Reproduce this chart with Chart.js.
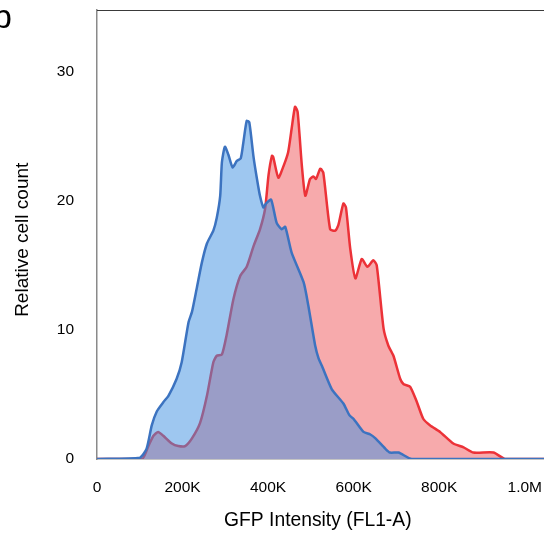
<!DOCTYPE html>
<html>
<head>
<meta charset="utf-8">
<script src="https://cdn.jsdelivr.net/npm/chart.js@4/dist/chart.umd.min.js"></script>
<style>
    body { margin: 0; background: #ffffff; }
    #wrap { position: relative; width: 544px; height: 540px; overflow: hidden; }
    #panelLabel { position: absolute; left: -7px; top: -1px; font: 34px "Liberation Sans", Arial, sans-serif; line-height: 34px; color: #000; }
</style>
</head>
<body>
<div id="wrap">
    <canvas id="gfpChart" width="544" height="540"></canvas>
    <span id="panelLabel">b</span>
</div>
<script>
// GFP intensity in thousands (K), relative cell count
const blueX = [0, 100, 116, 128, 140, 155, 167, 186, 198, 214, 222, 233, 245, 257, 272, 280, 288, 292, 299, 307, 317, 327, 336, 342, 350, 356, 366, 374, 381, 389, 395, 407, 420, 432, 440, 455, 483, 494, 510, 518, 526, 549, 576, 590, 600, 623, 639, 651, 674, 685, 705, 736, 1045];
const blueY = [0, 0.1, 0.8, 2.6, 3.7, 4.4, 4.9, 6.2, 7.5, 10.6, 11.4, 13.2, 15.2, 16.7, 17.7, 18.7, 20.4, 23.0, 24.2, 23.6, 22.6, 23.1, 23.3, 24.5, 26.2, 26.1, 23.4, 21.7, 20.4, 19.5, 19.8, 20.1, 18.3, 17.8, 18.0, 16.0, 13.7, 11.9, 8.8, 7.8, 7.2, 5.4, 4.3, 3.4, 3.1, 2.1, 1.9, 1.6, 0.8, 0.5, 0.5, 0, 0];

const redX = [0, 105, 120, 132, 143, 155, 175, 190, 206, 222, 241, 257, 272, 280, 292, 303, 319, 335, 350, 366, 381, 393, 401, 409, 412, 424, 436, 447, 455, 463, 469, 479, 487, 498, 506, 512, 522, 529, 545, 557, 564, 576, 582, 592, 604, 619, 632, 646, 654, 670, 681, 693, 709, 717, 732, 748, 763, 779, 802, 833, 857, 880, 927, 954, 1045];
const redY = [0, 0, 1.0, 1.8, 2.1, 1.8, 1.2, 1.0, 1.0, 1.6, 2.8, 4.9, 7.5, 8.0, 8.1, 9.6, 12.4, 14.2, 14.9, 16.5, 17.8, 19.4, 22.0, 23.5, 23.4, 21.8, 22.7, 23.8, 25.6, 27.3, 26.9, 22.7, 20.4, 21.7, 21.9, 21.7, 22.5, 22.2, 17.8, 17.7, 18.1, 19.8, 19.5, 16.3, 14.0, 15.5, 14.9, 15.4, 15.0, 10.1, 8.8, 8.0, 6.2, 5.8, 5.6, 4.4, 3.1, 2.6, 2.1, 1.2, 0.9, 0.5, 0.5, 0, 0];

const xTicks = [0, 200, 400, 600, 800, 1000];
const yTicks = [0, 10, 20, 30];

function toPoints(xs, ys) {
    return xs.map((x, i) => ({ x: x, y: ys[i] }));
}

function formatK(v) {
    if (v === 0) return '0';
    if (v >= 1000) return (v / 1000).toFixed(1) + 'M';
    return v + 'K';
}

// keep the plot area where the reference has it (no extra label padding)
function noPadding(scale) {
    scale.paddingTop = 0;
    scale.paddingBottom = 0;
    scale.paddingLeft = 0;
    scale.paddingRight = 0;
}

const topBorder = {
    id: 'topBorder',
    afterDraw: (chart) => {
        const { ctx, chartArea } = chart;
        ctx.save();
        ctx.strokeStyle = '#3a3a3a';
        ctx.lineWidth = 1.2;
        ctx.beginPath();
        ctx.moveTo(chartArea.left, chartArea.top + 0.5);
        ctx.lineTo(chartArea.right, chartArea.top + 0.5);
        ctx.stroke();
        ctx.restore();
    }
};

const ctx = document.getElementById('gfpChart').getContext('2d');
new Chart(ctx, {
    type: 'line',
    data: {
        datasets: [
            {
                label: 'control',
                data: toPoints(blueX, blueY),
                borderColor: 'rgb(60, 115, 192)',
                backgroundColor: 'rgba(62, 143, 225, 0.5)',
                borderWidth: 2.5,
                pointRadius: 0,
                tension: 0.2,
                fill: 'origin'
            },
            {
                label: 'GFP',
                data: toPoints(redX, redY),
                borderColor: 'rgb(236, 50, 56)',
                backgroundColor: 'rgb(247, 170, 172)',
                borderWidth: 2.5,
                pointRadius: 0,
                tension: 0.2,
                fill: 'origin'
            }
        ]
    },
    options: {
        responsive: false,
        animation: false,
        layout: { padding: { top: 10, right: 0, left: 0, bottom: 0 } },
        plugins: {
            legend: { display: false },
            tooltip: { enabled: false }
        },
        scales: {
            x: {
                type: 'linear',
                min: 0,
                max: 1045,
                afterFit: (scale) => { scale.height = 81; noPadding(scale); },
                afterBuildTicks: (scale) => { scale.ticks = xTicks.map(v => ({ value: v })); },
                grid: { display: false, drawTicks: false },
                border: { display: true, color: '#8a8a8a', width: 1.5 },
                ticks: {
                    padding: 19,
                    color: '#000',
                    font: { family: '"Liberation Sans", Arial, sans-serif', size: 15.5 },
                    callback: (v) => formatK(v),
                    maxRotation: 0
                },
                title: {
                    display: true,
                    text: 'GFP Intensity (FL1-A) ',
                    color: '#000',
                    font: { family: '"Liberation Sans", Arial, sans-serif', size: 19.3 },
                    padding: { top: 0, bottom: 8 }
                }
            },
            y: {
                min: 0,
                max: 34.8,
                afterFit: (scale) => { scale.width = 97; noPadding(scale); },
                afterBuildTicks: (scale) => { scale.ticks = yTicks.map(v => ({ value: v })); },
                grid: { display: false, drawTicks: false },
                border: { display: true, color: '#8a8a8a', width: 1.5 },
                ticks: {
                    padding: 23,
                    color: '#000',
                    font: { family: '"Liberation Sans", Arial, sans-serif', size: 15.5 }
                },
                title: {
                    display: true,
                    text: 'Relative cell count  ',
                    color: '#000',
                    font: { family: '"Liberation Sans", Arial, sans-serif', size: 19 },
                    padding: { top: 11, bottom: 0 }
                }
            }
        }
    },
    plugins: [topBorder]
});
</script>
</body>
</html>
